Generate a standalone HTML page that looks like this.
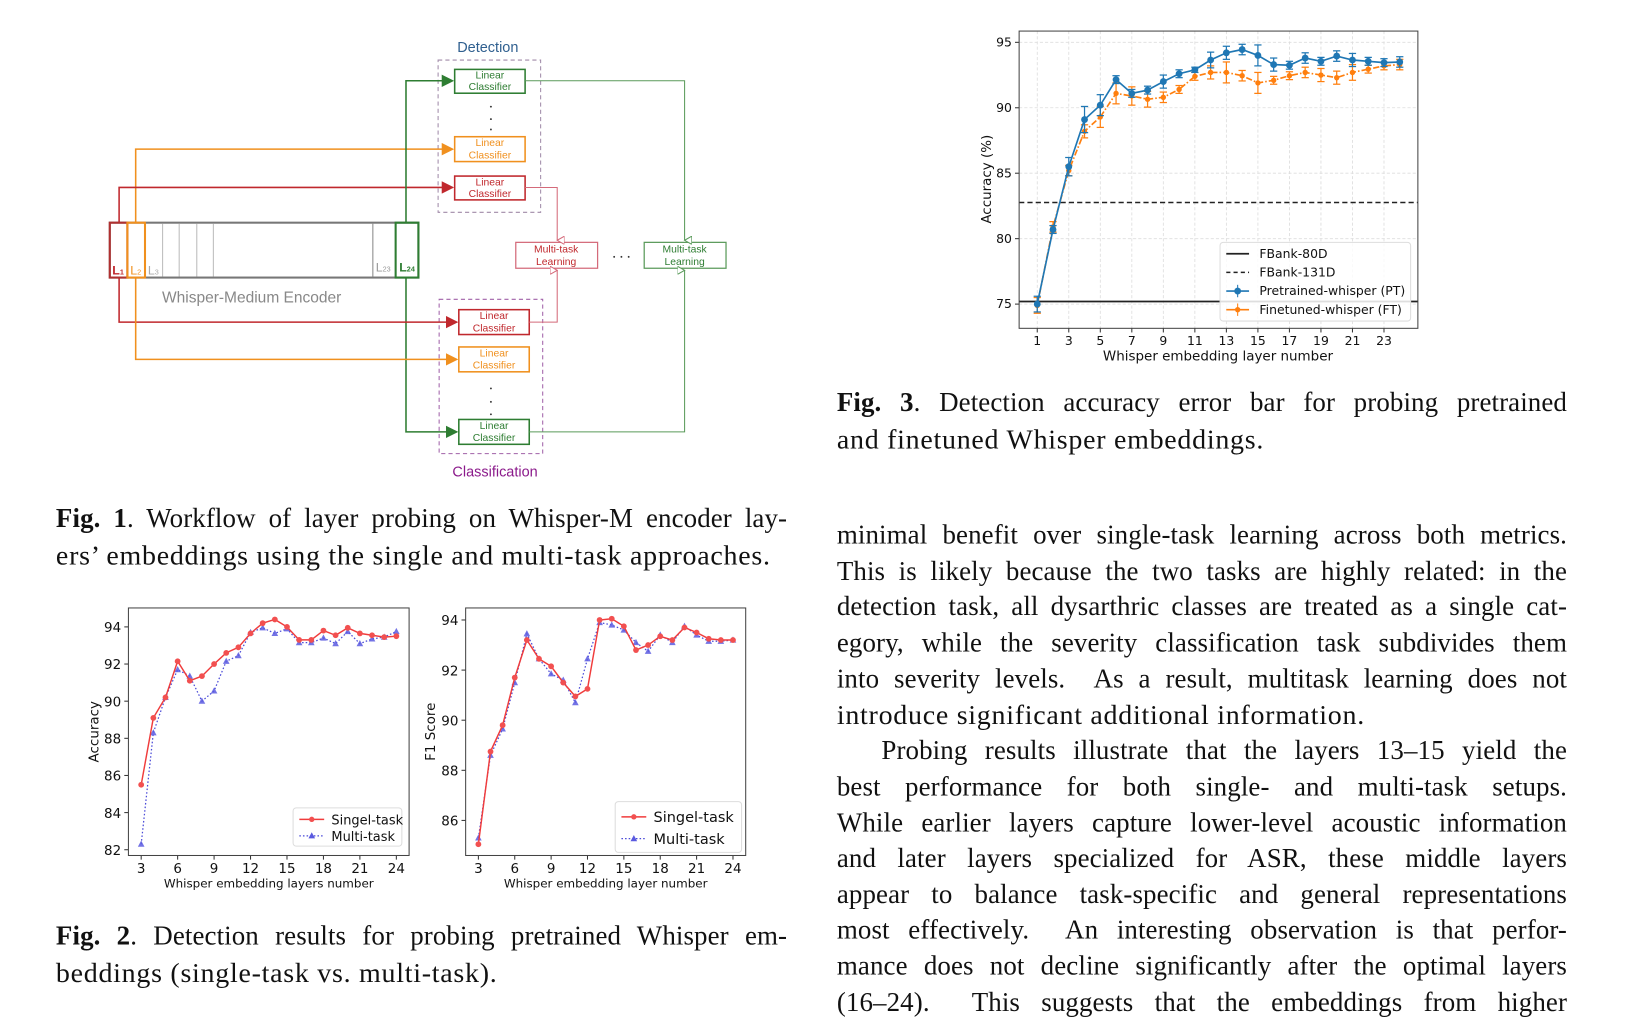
<!DOCTYPE html>
<html><head><meta charset="utf-8">
<style>
html,body{margin:0;padding:0;background:#fff;overflow:hidden;}
#wrap{position:absolute;left:0;top:0;width:1569px;height:984px;transform:scale(1.0357);transform-origin:0 0;}
.ln{position:absolute;height:34px;line-height:34px;font-family:"Liberation Serif",serif;font-size:27px;letter-spacing:0.7px;color:#111;white-space:nowrap;}
.j{text-align:justify;text-align-last:justify;white-space:normal;font-size:26px;letter-spacing:0.1px;}
svg{position:absolute;left:0;top:0;}
</style></head><body>
<div id="wrap">

<svg id="fig1" width="760" height="470" font-family="Liberation Sans, sans-serif">
 <defs>
  <marker id="ag" markerWidth="8" markerHeight="8" refX="7" refY="4" orient="auto"><path d="M0,0L8,4L0,8z" fill="#2e7d32"/></marker>
  <marker id="ao" markerWidth="8" markerHeight="8" refX="7" refY="4" orient="auto"><path d="M0,0L8,4L0,8z" fill="#f0901e"/></marker>
  <marker id="ar" markerWidth="8" markerHeight="8" refX="7" refY="4" orient="auto"><path d="M0,0L8,4L0,8z" fill="#c0282d"/></marker>
  <marker id="hr" markerWidth="8" markerHeight="8" refX="4" refY="7" orient="auto-start-reverse"><path d="M0,0L4,7L8,0z" fill="#fff" stroke="#d46a7a"/></marker>
  <marker id="hg" markerWidth="8" markerHeight="8" refX="4" refY="7" orient="auto-start-reverse"><path d="M0,0L4,7L8,0z" fill="#fff" stroke="#5a9a5a"/></marker>
 </defs>
 <text x="471" y="50" font-size="14" fill="#2f5f8f" text-anchor="middle">Detection</text>
 <rect x="423" y="58" width="99" height="147" fill="none" stroke="#a08aa8" stroke-dasharray="4,3"/>
 <rect x="424" y="289" width="100" height="149" fill="none" stroke="#a060a8" stroke-dasharray="4,3"/>
 <text x="478" y="460" font-size="14" fill="#8b1a8b" text-anchor="middle">Classification</text>
 <rect x="106" y="215" width="298" height="53" fill="#fff" stroke="#777" stroke-width="2"/>
 <g stroke="#bbb" stroke-width="1"><line x1="157" y1="216" x2="157" y2="267"/><line x1="173" y1="216" x2="173" y2="267"/><line x1="190" y1="216" x2="190" y2="267"/><line x1="206" y1="216" x2="206" y2="267"/><line x1="360" y1="216" x2="360" y2="267" stroke="#888"/></g>
 <polyline points="131,215 131,144 437,144" fill="none" stroke="#f0901e" stroke-width="1.5" marker-end="url(#ao)"/>
 <polyline points="115,215 115,181 437,181" fill="none" stroke="#c0282d" stroke-width="1.5" marker-end="url(#ar)"/>
 <polyline points="392,215 392,78 437,78" fill="none" stroke="#2e7d32" stroke-width="1.5" marker-end="url(#ag)"/>
 <polyline points="392,268 392,417 441,417" fill="none" stroke="#2e7d32" stroke-width="1.5" marker-end="url(#ag)"/>
 <polyline points="115,268 115,311 441,311" fill="none" stroke="#c0282d" stroke-width="1.5" marker-end="url(#ar)"/>
 <polyline points="131,268 131,347 441,347" fill="none" stroke="#f0901e" stroke-width="1.5" marker-end="url(#ao)"/>
 <rect x="106" y="215" width="17" height="53" fill="none" stroke="#b03030" stroke-width="2"/>
 <rect x="123" y="215" width="17" height="53" fill="none" stroke="#f0901e" stroke-width="2"/>
 <rect x="382" y="215" width="22" height="53" fill="none" stroke="#2e7d32" stroke-width="2"/>
 <text x="114" y="265" font-size="12" font-weight="bold" fill="#c0282d" text-anchor="middle">L<tspan font-size="7">1</tspan></text>
 <text x="131" y="265" font-size="12" fill="#f0901e" text-anchor="middle">L<tspan font-size="7">2</tspan></text>
 <text x="148" y="265" font-size="12" fill="#aaa" text-anchor="middle">L<tspan font-size="7">3</tspan></text>
 <text x="370" y="262" font-size="12" fill="#999" text-anchor="middle">L<tspan font-size="7">23</tspan></text>
 <text x="393" y="262" font-size="12" font-weight="bold" fill="#2e7d32" text-anchor="middle">L<tspan font-size="7">24</tspan></text>
 <text x="243" y="292" font-size="15" fill="#888" text-anchor="middle">Whisper-Medium Encoder</text>
 <g font-size="10" text-anchor="middle">
  <rect x="439" y="67" width="68" height="23" fill="#fff" stroke="#2e7d32" stroke-width="1.5"/><text x="473" y="76" fill="#2e7d32">Linear</text><text x="473" y="87" fill="#2e7d32">Classifier</text>
  <rect x="439" y="132" width="68" height="24" fill="#fff" stroke="#f0901e" stroke-width="1.5"/><text x="473" y="141" fill="#f0901e">Linear</text><text x="473" y="153" fill="#f0901e">Classifier</text>
  <rect x="439" y="170" width="68" height="23" fill="#fff" stroke="#c0282d" stroke-width="1.5"/><text x="473" y="179" fill="#c0282d">Linear</text><text x="473" y="190" fill="#c0282d">Classifier</text>
  <rect x="443" y="299" width="68" height="24" fill="#fff" stroke="#c0282d" stroke-width="1.5"/><text x="477" y="308" fill="#c0282d">Linear</text><text x="477" y="320" fill="#c0282d">Classifier</text>
  <rect x="443" y="335" width="68" height="24" fill="#fff" stroke="#f0901e" stroke-width="1.5"/><text x="477" y="344" fill="#f0901e">Linear</text><text x="477" y="356" fill="#f0901e">Classifier</text>
  <rect x="443" y="405" width="68" height="24" fill="#fff" stroke="#2e7d32" stroke-width="1.5"/><text x="477" y="414" fill="#2e7d32">Linear</text><text x="477" y="426" fill="#2e7d32">Classifier</text>
  <rect x="498" y="234" width="79" height="25" fill="#fff" stroke="#d46a7a" stroke-width="1.2"/><text x="537" y="244" fill="#c0282d">Multi-task</text><text x="537" y="256" fill="#c0282d">Learning</text>
  <rect x="622" y="234" width="79" height="25" fill="#fff" stroke="#5a9a5a" stroke-width="1.2"/><text x="661" y="244" fill="#2e7d32">Multi-task</text><text x="661" y="256" fill="#2e7d32">Learning</text>
 </g>
 <g fill="#333"><circle cx="474" cy="103" r="0.9"/><circle cx="474" cy="115" r="0.9"/><circle cx="474" cy="125" r="0.9"/><circle cx="474" cy="375" r="0.9"/><circle cx="474" cy="388" r="0.9"/><circle cx="474" cy="400" r="0.9"/><circle cx="593" cy="248" r="0.9"/><circle cx="600" cy="248" r="0.9"/><circle cx="607" cy="248" r="0.9"/></g>
 <polyline points="507,181 538,181 538,232" fill="none" stroke="#d46a7a" marker-end="url(#hr)"/>
 <polyline points="511,311 538,311 538,261" fill="none" stroke="#d46a7a" marker-end="url(#hr)"/>
 <polyline points="507,78 661,78 661,232" fill="none" stroke="#5a9a5a" marker-end="url(#hg)"/>
 <polyline points="511,417 661,417 661,261" fill="none" stroke="#5a9a5a" marker-end="url(#hg)"/>
</svg>

<svg id="charts" width="1569" height="984" font-family="DejaVu Sans, Liberation Sans, sans-serif"></svg>

<div class="ln j" style="left:54px;top:484px;width:706px"><b>Fig. 1</b>. Workflow of layer probing on Whisper-M encoder lay-</div>
<div class="ln" style="left:54px;top:519px">ers’ embeddings using the single and multi-task approaches.</div>
<div class="ln j" style="left:54px;top:887px;width:706px"><b>Fig. 2</b>. Detection results for probing pretrained Whisper em-</div>
<div class="ln" style="left:54px;top:922px">beddings (single-task vs. multi-task).</div>
<div class="ln j" style="left:808px;top:372px;width:705px"><b>Fig. 3</b>. Detection accuracy error bar for probing pretrained</div>
<div class="ln" style="left:808px;top:407px">and finetuned Whisper embeddings.</div>

<div>
<div class="ln j" style="left:808px;top:500px;width:705px">minimal benefit over single-task learning across both metrics.</div>
<div class="ln j" style="left:808px;top:535px;width:705px">This is likely because the two tasks are highly related: in the</div>
<div class="ln j" style="left:808px;top:569px;width:705px">detection task, all dysarthric classes are treated as a single cat-</div>
<div class="ln j" style="left:808px;top:604px;width:705px">egory, while the severity classification task subdivides them</div>
<div class="ln j" style="left:808px;top:639px;width:705px">into severity levels.&nbsp; As a result, multitask learning does not</div>
<div class="ln" style="left:808px;top:673px">introduce significant additional information.</div>
<div class="ln j" style="left:851px;top:708px;width:662px">Probing results illustrate that the layers 13–15 yield the</div>
<div class="ln j" style="left:808px;top:743px;width:705px">best performance for both single- and multi-task setups.</div>
<div class="ln j" style="left:808px;top:778px;width:705px">While earlier layers capture lower-level acoustic information</div>
<div class="ln j" style="left:808px;top:812px;width:705px">and later layers specialized for ASR, these middle layers</div>
<div class="ln j" style="left:808px;top:847px;width:705px">appear to balance task-specific and general representations</div>
<div class="ln j" style="left:808px;top:881px;width:705px">most effectively.&nbsp; An interesting observation is that perfor-</div>
<div class="ln j" style="left:808px;top:916px;width:705px">mance does not decline significantly after the optimal layers</div>
<div class="ln j" style="left:808px;top:951px;width:705px">(16–24).&nbsp; This suggests that the embeddings from higher</div>
</div>
</div>

<script>
// ---- Fig 3 data ----
const f3Layers = [1,2,3,4,5,6,7,8,9,10,11,12,13,14,15,16,17,18,19,20,21,22,23,24];
const f3PT = [75.0,80.7,85.5,89.1,90.2,92.15,91.1,91.35,92.0,92.6,92.9,93.65,94.2,94.45,94.0,93.3,93.25,93.8,93.55,93.95,93.65,93.55,93.45,93.5];
const f3PTerr = [0.6,0.3,0.7,1.0,0.8,0.3,0.3,0.3,0.5,0.3,0.2,0.6,0.5,0.4,0.8,0.5,0.3,0.4,0.3,0.4,0.5,0.3,0.3,0.4];
const f3FT = [74.9,80.9,85.2,88.2,89.3,91.1,90.9,90.65,90.8,91.4,92.4,92.7,92.7,92.45,91.9,92.1,92.45,92.7,92.5,92.3,92.7,92.95,93.2,93.3];
const f3FTerr = [0.6,0.4,0.4,0.5,0.8,0.8,0.7,0.6,0.4,0.3,0.3,0.5,0.8,0.4,0.8,0.3,0.3,0.4,0.5,0.5,0.6,0.3,0.3,0.4];
const f3FBank80 = 75.2;
const f3FBank131 = 82.76;
const f3YTicks = [75,80,85,90,95];
const f3XTicks = [1,3,5,7,9,11,13,15,17,19,21,23];
// ---- Fig 2 data ----
const f2Layers = [3,4,5,6,7,8,9,10,11,12,13,14,15,16,17,18,19,20,21,22,23,24];
const f2AccSingle = [85.5,89.1,90.2,92.15,91.1,91.35,92.0,92.6,92.9,93.65,94.2,94.4,94.0,93.3,93.3,93.8,93.55,93.95,93.65,93.55,93.45,93.5];
const f2AccMulti = [82.3,88.3,90.2,91.7,91.35,90.0,90.55,92.15,92.45,93.7,93.95,93.65,93.9,93.15,93.15,93.4,93.1,93.75,93.1,93.35,93.45,93.75];
const f2F1Single = [85.05,88.75,89.8,91.7,93.2,92.45,92.15,91.5,90.95,91.25,94.0,94.05,93.75,92.8,93.0,93.35,93.2,93.7,93.5,93.25,93.2,93.2];
const f2F1Multi = [85.3,88.6,89.65,91.5,93.45,92.45,91.85,91.6,90.7,92.45,93.9,93.8,93.6,93.1,92.75,93.4,93.1,93.75,93.4,93.15,93.15,93.2];
const f2AccYTicks = [82,84,86,88,90,92,94];
const f2F1YTicks = [86,88,90,92,94];
const f2XTicks = [3,6,9,12,15,18,21,24];

const NS='http://www.w3.org/2000/svg';
const root=document.getElementById('charts');
function mk(tag,attrs,parent){const e=document.createElementNS(NS,tag);for(const k in attrs)e.setAttribute(k,attrs[k]);(parent||root).appendChild(e);return e;}
function scale(d0,d1,r0,r1){return v=>r0+(v-d0)/(d1-d0)*(r1-r0);}
function txt(x,y,s,size,anchor,parent,rot){const t=mk('text',{x:x,y:y,'font-size':size,'text-anchor':anchor||'middle',fill:'#111'},parent);if(rot)t.setAttribute('transform','rotate(-90 '+x+' '+y+')');t.textContent=s;return t;}

// ===== Fig 3 =====
(function(){
 const L=984,R=1369,T=30,B=317;
 const x=scale(-0.15,25.15,L,R), y=scale(73.15,95.86,B,T);
 const g=mk('g',{});
 
 
 f3XTicks.forEach(v=>{mk('line',{x1:x(v),x2:x(v),y1:T,y2:B,stroke:'#ddd','stroke-dasharray':'3,2','stroke-width':0.8},g);
  mk('line',{x1:x(v),x2:x(v),y1:B,y2:B+4,stroke:'#333'},g);txt(x(v),B+16,String(v),12,'middle',g);});
 f3YTicks.forEach(v=>{mk('line',{x1:L,x2:R,y1:y(v),y2:y(v),stroke:'#ddd','stroke-dasharray':'3,2','stroke-width':0.8},g);
  mk('line',{x1:L-4,x2:L,y1:y(v),y2:y(v),stroke:'#333'},g);txt(L-7,y(v)+4,String(v),12,'end',g);});
 const b80=mk('line',{x1:L,x2:R,y1:y(f3FBank80),y2:y(f3FBank80),stroke:'#222','stroke-width':1.6},g);
 
 const b131=mk('line',{x1:L,x2:R,y1:y(f3FBank131),y2:y(f3FBank131),stroke:'#222','stroke-width':1.4,'stroke-dasharray':'5,3'},g);
 
 function series(vals,errs,color,dash,r,name){
  const sg=mk('g',{},g);
  
  
  vals.forEach((v,i)=>{const cx=x(f3Layers[i]);
   mk('line',{x1:cx,x2:cx,y1:y(v-errs[i]),y2:y(v+errs[i]),stroke:color,'stroke-width':1.2},sg);
   mk('line',{x1:cx-3.5,x2:cx+3.5,y1:y(v-errs[i]),y2:y(v-errs[i]),stroke:color,'stroke-width':1.2},sg);
   mk('line',{x1:cx-3.5,x2:cx+3.5,y1:y(v+errs[i]),y2:y(v+errs[i]),stroke:color,'stroke-width':1.2},sg);});
  mk('polyline',{points:vals.map((v,i)=>x(f3Layers[i])+','+y(v)).join(' '),fill:'none',stroke:color,'stroke-width':1.6,'stroke-dasharray':dash},sg);
  vals.forEach((v,i)=>{const p=mk('circle',{cx:x(f3Layers[i]),cy:y(v),r:r,fill:color},sg);
   });
 }
 series(f3FT,f3FTerr,'#ff7f0e','6,2,1.5,2',2.6,'finetuned-series');
 series(f3PT,f3PTerr,'#1f77b4','none',3.3,'pretrained-series');
 mk('rect',{x:L,y:T,width:R-L,height:B-T,fill:'none',stroke:'#444','stroke-width':1},g);
 txt(1176,348,'Whisper embedding layer number',13,'middle',g);
 txt(957,173,'Accuracy (%)',13,'middle',g,true);
 const lg=mk('g',{},g);
 
 
 mk('rect',{x:1178,y:234,width:184,height:76,rx:3,fill:'#fff','fill-opacity':0.85,stroke:'#ddd'},lg);
 mk('line',{x1:1184,x2:1206,y1:245,y2:245,stroke:'#222','stroke-width':1.6},lg);txt(1216,249,'FBank-80D',12,'start',lg);
 mk('line',{x1:1184,x2:1206,y1:263,y2:263,stroke:'#222','stroke-width':1.4,'stroke-dasharray':'4,3'},lg);txt(1216,267,'FBank-131D',12,'start',lg);
 mk('line',{x1:1184,x2:1206,y1:281,y2:281,stroke:'#1f77b4','stroke-width':1.6},lg);mk('line',{x1:1195,x2:1195,y1:275,y2:287,stroke:'#1f77b4'},lg);mk('circle',{cx:1195,cy:281,r:3.3,fill:'#1f77b4'},lg);txt(1216,285,'Pretrained-whisper (PT)',12,'start',lg);
 mk('line',{x1:1184,x2:1206,y1:299,y2:299,stroke:'#ff7f0e','stroke-width':1.6},lg);mk('line',{x1:1195,x2:1195,y1:293,y2:305,stroke:'#ff7f0e'},lg);mk('circle',{cx:1195,cy:299,r:2.6,fill:'#ff7f0e'},lg);txt(1216,303,'Finetuned-whisper (FT)',12,'start',lg);
})();

// ===== Fig 2 =====
function fig2(L,R,T,B,ymin,ymax,yticks,single,multi,ytitle,xtitle,ytx,lgx,lgy,lgw,lgh,name){
 const x=scale(1.95,25.05,L,R), y=scale(ymin,ymax,B,T);
 const g=mk('g',{});
 
 
 f2XTicks.forEach(v=>{mk('line',{x1:x(v),x2:x(v),y1:B,y2:B+4,stroke:'#333'},g);txt(x(v),B+17,String(v),13,'middle',g);});
 yticks.forEach(v=>{mk('line',{x1:L-4,x2:L,y1:y(v),y2:y(v),stroke:'#333'},g);txt(L-7,y(v)+5,String(v),13,'end',g);});
 const mg=mk('g',{},g);
 
 mk('polyline',{points:multi.map((v,i)=>x(f2Layers[i])+','+y(v)).join(' '),fill:'none',stroke:'#4a4ad8','stroke-width':1.2,'stroke-dasharray':'1.5,2'},mg);
 const sg=mk('g',{},g);
 
 mk('polyline',{points:single.map((v,i)=>x(f2Layers[i])+','+y(v)).join(' '),fill:'none',stroke:'#f03c3c','stroke-width':1.4},sg);
 single.forEach((v,i)=>{const c=mk('circle',{cx:x(f2Layers[i]),cy:y(v),r:2.8,fill:'#f25050'},sg);});
 multi.forEach((v,i)=>{const cx=x(f2Layers[i]),cy=y(v);const p=mk('path',{d:'M'+cx+','+(cy-3.5)+'L'+(cx+3.2)+','+(cy+2.5)+'L'+(cx-3.2)+','+(cy+2.5)+'z',fill:'#5a5ae0','fill-opacity':0.85},mg);});
 mk('rect',{x:L,y:T,width:R-L,height:B-T,fill:'none',stroke:'#444','stroke-width':1},g);
 txt((L+R)/2,B+31,xtitle,11.5,'middle',g);
 txt(ytx,(T+B)/2,ytitle,13,'middle',g,true);
 const lg=mk('g',{},g);
 
 mk('rect',{x:lgx,y:lgy,width:lgw,height:lgh,rx:3,fill:'#fff',stroke:'#ddd'},lg);
 const r1=lgy+lgh*0.3,r2=lgy+lgh*0.73;
 mk('line',{x1:lgx+6,x2:lgx+30,y1:r1,y2:r1,stroke:'#f03c3c','stroke-width':1.4},lg);mk('circle',{cx:lgx+18,cy:r1,r:2.6,fill:'#f25050'},lg);txt(lgx+37,r1+5,'Singel-task',lgh>40?14:12.5,'start',lg);
 mk('line',{x1:lgx+6,x2:lgx+30,y1:r2,y2:r2,stroke:'#4a4ad8','stroke-width':1.2,'stroke-dasharray':'1.5,2'},lg);mk('path',{d:'M'+(lgx+18)+','+(r2-3.5)+'l3.2,6h-6.4z',fill:'#5a5ae0'},lg);txt(lgx+37,r2+5,'Multi-task',lgh>40?14:12.5,'start',lg);
}
fig2(124,395,587,826,81.69,95.02,f2AccYTicks,f2AccSingle,f2AccMulti,'Accuracy','Whisper embedding layers number',95,283,780,105,37,'fig2-accuracy-chart');
fig2(449.6,720,587,826,84.6,94.48,f2F1YTicks,f2F1Single,f2F1Multi,'F1 Score','Whisper embedding layer number',420,594,774,122,49,'fig2-f1-chart');
</script>
</body></html>
